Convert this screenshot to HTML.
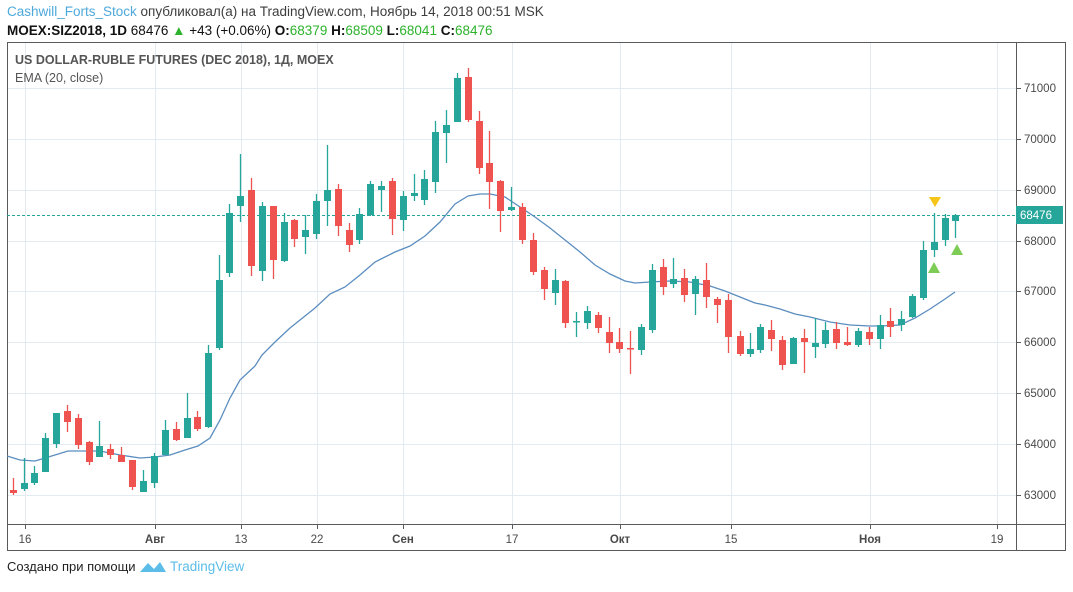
<!DOCTYPE html>
<html><head><meta charset="utf-8"><style>
body{margin:0;background:#fff;width:1073px;height:587px;overflow:hidden;font-family:"Liberation Sans","Noto Sans CJK SC",sans-serif}
</style></head><body>
<svg width="1073" height="587" xmlns="http://www.w3.org/2000/svg" font-family="Liberation Sans, DejaVu Sans, sans-serif">
<text x="7" y="16" font-size="13.5" fill="#3d3d3d"><tspan fill="#4ea9dc">Cashwill_Forts_Stock</tspan> опубликовал(а) на TradingView.com, Ноябрь 14, 2018 00:51 MSK</text>
<text x="7" y="35" font-size="13.5" fill="#111"><tspan font-weight="bold">MOEX:SIZ2018, 1D</tspan> 68476 <tspan fill="#2cb22c">▲</tspan> +43 (+0.06%) <tspan font-weight="bold">O:</tspan><tspan fill="#2cb22c">68379</tspan> <tspan font-weight="bold">H:</tspan><tspan fill="#2cb22c">68509</tspan> <tspan font-weight="bold">L:</tspan><tspan fill="#2cb22c">68041</tspan> <tspan font-weight="bold">C:</tspan><tspan fill="#2cb22c">68476</tspan></text>
<g stroke="#e3ebf1" stroke-width="1">
<line x1="7" x2="1016" y1="88.5" y2="88.5"/><line x1="7" x2="1016" y1="139.5" y2="139.5"/><line x1="7" x2="1016" y1="190.5" y2="190.5"/><line x1="7" x2="1016" y1="241.5" y2="241.5"/><line x1="7" x2="1016" y1="291.5" y2="291.5"/><line x1="7" x2="1016" y1="342.5" y2="342.5"/><line x1="7" x2="1016" y1="393.5" y2="393.5"/><line x1="7" x2="1016" y1="444.5" y2="444.5"/><line x1="7" x2="1016" y1="495.5" y2="495.5"/>
<line x1="25.5" x2="25.5" y1="42" y2="524"/><line x1="155.5" x2="155.5" y1="42" y2="524"/><line x1="241.5" x2="241.5" y1="42" y2="524"/><line x1="317.5" x2="317.5" y1="42" y2="524"/><line x1="403.5" x2="403.5" y1="42" y2="524"/><line x1="512.5" x2="512.5" y1="42" y2="524"/><line x1="620.5" x2="620.5" y1="42" y2="524"/><line x1="731.5" x2="731.5" y1="42" y2="524"/><line x1="870.5" x2="870.5" y1="42" y2="524"/><line x1="997.5" x2="997.5" y1="42" y2="524"/>
</g>
<rect x="7.5" y="42.5" width="1058" height="508" fill="none" stroke="#5a5a5a"/>
<line x1="7" x2="1066" y1="524.5" y2="524.5" stroke="#5a5a5a"/>
<line x1="1016.5" x2="1016.5" y1="42" y2="550" stroke="#5a5a5a"/>
<g stroke="#5a5a5a"><line x1="25.5" x2="25.5" y1="524" y2="529"/><line x1="155.5" x2="155.5" y1="524" y2="529"/><line x1="241.5" x2="241.5" y1="524" y2="529"/><line x1="317.5" x2="317.5" y1="524" y2="529"/><line x1="403.5" x2="403.5" y1="524" y2="529"/><line x1="512.5" x2="512.5" y1="524" y2="529"/><line x1="620.5" x2="620.5" y1="524" y2="529"/><line x1="731.5" x2="731.5" y1="524" y2="529"/><line x1="870.5" x2="870.5" y1="524" y2="529"/><line x1="997.5" x2="997.5" y1="524" y2="529"/>
<line x1="1016" x2="1021" y1="88.5" y2="88.5"/><line x1="1016" x2="1021" y1="139.5" y2="139.5"/><line x1="1016" x2="1021" y1="190.5" y2="190.5"/><line x1="1016" x2="1021" y1="241.5" y2="241.5"/><line x1="1016" x2="1021" y1="291.5" y2="291.5"/><line x1="1016" x2="1021" y1="342.5" y2="342.5"/><line x1="1016" x2="1021" y1="393.5" y2="393.5"/><line x1="1016" x2="1021" y1="444.5" y2="444.5"/><line x1="1016" x2="1021" y1="495.5" y2="495.5"/></g>
<g font-size="11.5" fill="#4a4a4a" text-anchor="middle">
<text x="25" y="543">16</text><text x="155" y="543" font-weight="bold">Авг</text><text x="241" y="543">13</text><text x="317" y="543">22</text><text x="403" y="543" font-weight="bold">Сен</text><text x="512" y="543">17</text><text x="620" y="543" font-weight="bold">Окт</text><text x="731" y="543">15</text><text x="870" y="543" font-weight="bold">Ноя</text><text x="997" y="543">19</text>
</g>
<g font-size="11.5" fill="#4a4a4a">
<text x="1024" y="92">71000</text><text x="1024" y="143">70000</text><text x="1024" y="194">69000</text><text x="1024" y="245">68000</text><text x="1024" y="295">67000</text><text x="1024" y="346">66000</text><text x="1024" y="397">65000</text><text x="1024" y="448">64000</text><text x="1024" y="499">63000</text>
</g>
<text x="15" y="64" font-size="12.5" font-weight="bold" fill="#555">US DOLLAR-RUBLE FUTURES (DEC 2018), 1Д, MOEX</text>
<text x="15" y="82" font-size="12.5" fill="#555">EMA (20, close)</text>
<line x1="7" x2="1016" y1="215.5" y2="215.5" stroke="#26a69a" stroke-dasharray="3,2"/>
<rect x="1016" y="206" width="47" height="18" fill="#26a69a"/>
<text x="1020" y="219" font-size="11.5" fill="#fff">68476</text>
<polyline fill="none" stroke="#5b8dbf" stroke-width="1.3" points="7,456 20,460 35,461 45,458 55,455 68,451 80,451 100,451 120,455 140,458 155,457 170,455 185,450 198,446 210,438 220,420 230,398 240,380 255,366 262,355 275,342 290,328 300,320 315,308 330,294 345,287 360,275 375,262 395,252 410,246 425,236 440,222 455,204 468,196 480,194 490,194 505,197 520,207 535,217 550,228 565,240 580,252 595,265 610,274 625,281 635,283 650,282 670,281 690,282 710,286 725,291 740,297 755,303 765,305 780,309 795,314 810,317 830,322 850,325 870,326 880,326 900,325 915,318 930,309 945,299 955,292"/>
<path stroke="#26a69a" stroke-width="1.3" fill="none" d="M24.5 458V491M34.5 466V485M45.5 433V472M56.5 413V448M99.5 421V457M143.5 470V492M154.5 453V488M165.5 420V455M187.5 393V438M208.5 345V428M219.5 255V350M229.5 204V277M240.5 154V222M262.5 202V281M284.5 213V262M305.5 215V254M316.5 194V239M327.5 145V226M359.5 208V244M370.5 181V216M381.5 181V212M403.5 191V231M414.5 174V201M424.5 170V205M435.5 121V193M446.5 110V163M457.5 73V122M511.5 187V211M555.5 269V305M576.5 312V337M587.5 306V329M641.5 324V355M652.5 264V333M673.5 258V288M695.5 276V315M750.5 333V357M760.5 324V353M793.5 337V364M815.5 318V358M825.5 322V348M858.5 328V347M880.5 315V349M901.5 311V331M912.5 294V318M923.5 241V300M934.5 213V257M945.5 214V246M955.5 214V238"/>
<path fill="#26a69a" d="M21 483H28V489H21ZM31 473H38V483H31ZM42 438H49V472H42ZM53 413H60V444H53ZM96 446H103V457H96ZM140 481H147V492H140ZM151 456H158V483H151ZM162 430H169V455H162ZM184 418H191V438H184ZM205 353H212V427H205ZM216 280H223V348H216ZM226 213H233V273H226ZM237 196H244V206H237ZM259 206H266V271H259ZM281 222H288V261H281ZM302 230H309V237H302ZM313 201H320V234H313ZM324 190H331V201H324ZM356 214H363V240H356ZM367 184H374V215H367ZM378 186H385V190H378ZM400 196H407V220H400ZM411 193H418V196H411ZM421 179H428V200H421ZM432 132H439V182H432ZM443 125H450V133H443ZM454 78H461V122H454ZM508 207H515V210H508ZM552 280H559V293H552ZM573 321H580V322.5H573ZM584 311H591V323H584ZM638 327H645V350H638ZM649 270H656V330H649ZM670 279H677V284H670ZM692 279H699V294H692ZM747 349H754V354H747ZM757 327H764V350H757ZM790 338H797V364H790ZM812 343H819V347H812ZM822 330H829V344H822ZM855 331H862V345H855ZM877 325H884V339H877ZM898 319H905V325H898ZM909 296H916V317H909ZM920 250H927V298H920ZM931 242H938V250H931ZM942 218H949V240H942ZM952 215H959V221H952Z"/>
<path stroke="#ef5350" stroke-width="1.3" fill="none" d="M13.5 478V495M67.5 405V432M78.5 414V449M89.5 441V465M110.5 444V459M121.5 447V462M132.5 460V490M176.5 422V441M197.5 411V431M251.5 178V276M273.5 206V279M294.5 219V247M338.5 184V236M349.5 223V252M392.5 178V235M468.5 68V122M479.5 111V174M489.5 131V209M500.5 180V232M522.5 203V244M533.5 233V275M544.5 267V300M565.5 280V328M598.5 312V333M609.5 317V353M619.5 328V353M630.5 331V374M663.5 259V295M684.5 269V302M706.5 263V308M717.5 297V323M728.5 294V353M740.5 331V356M771.5 320V351M782.5 336V370M804.5 329V373M836.5 322V349M847.5 327V346M869.5 327V345M890.5 308V337"/>
<path fill="#ef5350" d="M10 490H17V493H10ZM64 411H71V422H64ZM75 418H82V445H75ZM86 442H93V462H86ZM107 449H114V455H107ZM118 455H125V462H118ZM129 460H136V487H129ZM173 429H180V440H173ZM194 417H201V429H194ZM248 190H255V266H248ZM270 206H277V260H270ZM291 220H298V239H291ZM335 189H342V226H335ZM346 230H353V245H346ZM389 181H396V219H389ZM465 77H472V120H465ZM476 121H483V168H476ZM486 163H493V182H486ZM497 181H504V211H497ZM519 207H526V240H519ZM530 240H537V272H530ZM541 270H548V289H541ZM562 281H569V323H562ZM595 315H602V328H595ZM606 332H613V343H606ZM616 342H623V349H616ZM627 348H634V349.5H627ZM660 267H667V287H660ZM681 278H688V295H681ZM703 280H710V297H703ZM714 299H721V305H714ZM725 300H732V337H725ZM737 336H744V354H737ZM768 330H775V339H768ZM779 340H786V365H779ZM801 338H808V342H801ZM833 329H840V343H833ZM844 342H851V345H844ZM866 332H873V339H866ZM887 321H894V327H887Z"/>
<polygon points="929,197 941,197 935,207" fill="#f5c518"/>
<polygon points="928,273 940,273 934,262" fill="#7ccc55"/>
<polygon points="951,255 963,255 957,244" fill="#7ccc55"/>
<text x="7" y="571" font-size="13" fill="#222">Создано при помощи</text>
<path d="M140 572 L148 563 L154 569 L160 562 L166 572 Z" fill="#5bbde8"/>
<text x="170" y="571" font-size="13.5" fill="#5bbde8">TradingView</text>
</svg>
</body></html>
